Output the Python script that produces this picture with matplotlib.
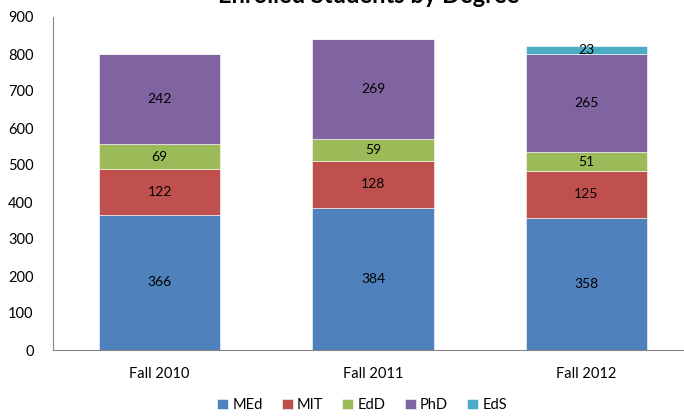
import matplotlib
matplotlib.use("Agg")
import matplotlib.pyplot as plt
import numpy as np

categories = ["Fall 2010", "Fall 2011", "Fall 2012"]
series_names = ["MEd", "MIT", "EdD", "PhD", "EdS"]
med = [366, 384, 358]
mit = [122, 128, 125]
edd = [69, 59, 51]
phd = [242, 269, 265]
eds = [0, 0, 23]
colors = ["#4F81BD", "#C0504D", "#9BBB59", "#8064A2", "#4BACC6"]

plt.rcParams['font.family'] = ['Lato', 'DejaVu Sans']

fig = plt.figure(figsize=(6.84, 4.18), dpi=100)
ax = fig.add_axes([53/684, 68/418, 640/684, 333/418])

x = np.arange(len(categories))
bottom = np.zeros(len(categories))
handles = []
for name, vals, c in zip(series_names, [med, mit, edd, phd, eds], colors):
    vals = np.array(vals, dtype=float)
    h = ax.bar(x, vals, 0.57, bottom=bottom, color=c, label=name, edgecolor='white', linewidth=0.4)
    handles.append(h)
    for xi, v, b in zip(x, vals, bottom):
        if v > 0:
            ax.text(xi, b + v / 2, f"{int(v)}", ha='center', va='center', fontsize=10, color='black')
    bottom += vals

ax.set_xlim(-0.5, 2.5)
ax.set_ylim(0, 900)
ax.set_yticks(range(0, 901, 100))
ax.set_xticks(x)
ax.set_xticklabels(categories)
ax.tick_params(axis='both', length=0, labelsize=10.5, colors='black')
ax.tick_params(axis='y', pad=14)
ax.tick_params(axis='x', pad=12)
for s in ['top', 'right']:
    ax.spines[s].set_visible(False)
for s in ['left', 'bottom']:
    ax.spines[s].set_color('#868686')
    ax.spines[s].set_linewidth(0.8)

fig.text(369/684, 1 - 3/418, "Enrolled Students by Degree", ha='center', va='baseline',
         fontsize=17, fontweight='bold')

fig.legend(handles=handles, labels=series_names, loc='center', bbox_to_anchor=(362/684, 1 - 405/418),
           ncol=5, frameon=False, fontsize=10.5, handlelength=0.75, handleheight=0.75,
           handletextpad=0.3, columnspacing=1.3)

fig.savefig("out.png", dpi=100)
